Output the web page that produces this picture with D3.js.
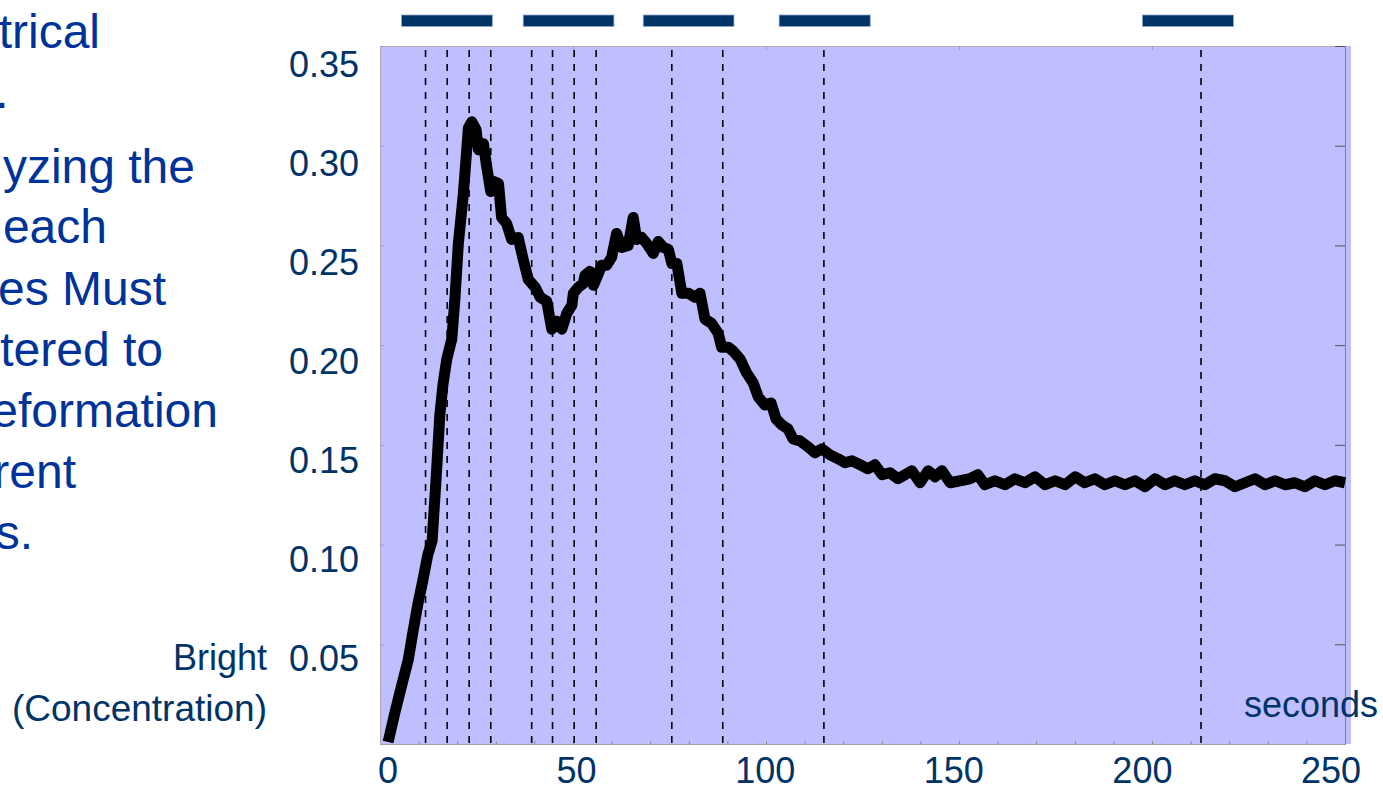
<!DOCTYPE html>
<html>
<head>
<meta charset="utf-8">
<script src="https://cdn.jsdelivr.net/npm/d3@7"></script>
<style>
  html, body { margin: 0; padding: 0; background: #fff; overflow: hidden; }
  svg { display: block; font-family: Arial, "Liberation Sans", sans-serif; }
</style>
</head>
<body>
<div id="chart"></div>
<script>
// time (s) and brightness
var seconds = [2.1, 3.9, 5.7, 7.3, 8.6, 9.8, 11.1, 12.4, 13.5, 14.5, 15.5, 16.3, 17.3, 18.6, 19.4, 20.3,
    21.6, 22.9, 23.8, 24.9, 25.5, 26.8, 27.6, 28.7, 29.5, 30.7, 31.5, 32.8, 34.1, 35.8, 37.1, 38.4,
    40.2, 41.5, 43.2, 44.5, 45.8, 47.1, 48.4, 49.7, 50.1, 51.4, 52.7, 53.1, 54.4, 55.3, 56.6, 57.4,
    58.7, 60.0, 61.3, 62.6, 64.3, 65.6, 66.5, 67.8, 69.1, 70.8, 72.1, 73.4, 74.7, 75.6, 76.9, 78.2,
    79.9, 81.6, 82.9, 84.2, 85.9, 87.6, 88.5, 90.2, 91.5, 93.3, 95.0, 96.7, 98.0, 99.7, 101.3, 102.6,
    104.1, 105.7, 107.0, 108.8, 110.9, 112.7, 114.5, 116.6, 118.7, 120.5, 122.3, 124.4, 126.4, 128.2,
    130.1, 132.1, 134.2, 136.0, 137.8, 139.9, 142.0, 143.8, 145.6, 147.7, 150.3, 152.8, 154.9, 156.7,
    159.3, 161.9, 164.5, 167.1, 169.7, 172.3, 174.9, 177.5, 180.1, 182.6, 185.2, 187.8, 190.4, 193.0,
    195.6, 198.2, 200.8, 203.4, 205.9, 208.5, 211.1, 213.7, 216.3, 218.9, 221.5, 224.1, 226.7, 229.3,
    231.9, 234.5, 237.0, 239.6, 242.2, 244.8, 247.4, 250.0];
var brightness = [0.001, 0.016, 0.030, 0.042, 0.057, 0.070, 0.082, 0.095, 0.102, 0.132, 0.165, 0.180, 0.193, 0.203, 0.223, 0.251,
    0.276, 0.309, 0.312, 0.308, 0.298, 0.301, 0.290, 0.277, 0.282, 0.281, 0.264, 0.261, 0.253, 0.254, 0.243, 0.233,
    0.229, 0.224, 0.222, 0.208, 0.212, 0.208, 0.216, 0.220, 0.226, 0.229, 0.231, 0.235, 0.237, 0.230, 0.236, 0.240,
    0.240, 0.244, 0.256, 0.249, 0.250, 0.264, 0.253, 0.254, 0.251, 0.246, 0.252, 0.249, 0.248, 0.241, 0.241, 0.226,
    0.226, 0.224, 0.226, 0.213, 0.211, 0.206, 0.199, 0.199, 0.197, 0.193, 0.186, 0.181, 0.174, 0.170, 0.171, 0.163,
    0.160, 0.158, 0.153, 0.152, 0.149, 0.146, 0.148, 0.145, 0.143, 0.141, 0.142, 0.140, 0.138, 0.140,
    0.135, 0.136, 0.133, 0.135, 0.137, 0.131, 0.137, 0.134, 0.137, 0.131, 0.132, 0.133, 0.135, 0.130,
    0.132, 0.130, 0.133, 0.131, 0.134, 0.130, 0.132, 0.130, 0.134, 0.131, 0.133, 0.130, 0.132, 0.130,
    0.132, 0.129, 0.133, 0.130, 0.132, 0.130, 0.132, 0.130, 0.133, 0.132, 0.129, 0.131, 0.133, 0.130,
    0.132, 0.130, 0.131, 0.129, 0.132, 0.130, 0.132, 0.131];

// dashed markers (s) and the stimulus bars on top (start, end in s)
var markers = [11.8, 17.4, 23.1, 28.7, 39.3, 44.7, 50.3, 56.0, 75.6, 88.8, 115.0, 212.7];
var barStarts = [5.6, 37.1, 68.2, 103.4, 197.5];
var barEnds = [29.1, 60.6, 91.7, 127.0, 221.1];

var xTicks = [0, 50, 100, 150, 200, 250];
var yTicks = [0.05, 0.10, 0.15, 0.20, 0.25, 0.30, 0.35];

// left-hand slide text, cut off by the page edge
var sideText = ['trical', '.', 'yzing the', 'each', 'es Must', 'tered to', 'eformation', 'rent', 's.'];
var sideRight = [100, 8.6, 195, 107, 166, 163, 218, 76, 33];
var sideBase = [48, 108, 183, 243, 305, 366, 427, 488, 549];

var width = 1383, height = 786;
var navy = '#003366';

var svg = d3.select('#chart').append('svg')
    .attr('width', width).attr('height', height);

var x = d3.scaleLinear().domain([0, 250]).range([380, 1345]);
var y = d3.scaleLinear().domain([0, 0.35]).range([744, 46]);
// labels sit a little off their ticks in the original
var xLab = d3.scaleLinear().domain([0, 250]).range([388, 1331]);
var yLab = d3.scaleLinear().domain([0.05, 0.35]).range([671, 77]);

svg.selectAll('text.side').data(sideText).enter()
   .append('text').attr('class', 'side')
   .attr('x', function(d, i) { return sideRight[i]; })
   .attr('y', function(d, i) { return sideBase[i]; })
   .attr('text-anchor', 'end')
   .attr('font-size', 48)
   .attr('fill', '#003399')
   .text(function(d) { return d; });

// plot background
svg.append('rect')
   .attr('x', x(0)).attr('y', y(0.35))
   .attr('width', x(250) - x(0) + 6).attr('height', y(0) - y(0.35))
   .attr('fill', '#bfbfff');

// frame + small ticks
svg.append('g').attr('transform', 'translate(0,' + y(0) + ')')
   .call(d3.axisBottom(x).ticks(25).tickSize(-3).tickFormat(''))
   .call(function(g) {
       g.selectAll('line').attr('stroke', '#8a8a8a');
       g.select('.domain').attr('stroke', '#a0a0a0');
   });
svg.append('g').attr('transform', 'translate(0,' + y(0.35) + ')')
   .call(d3.axisTop(x).ticks(5).tickSize(-4).tickSizeOuter(0).tickFormat(''))
   .call(function(g) {
       g.selectAll('line').attr('stroke', '#9a9ad0');
       g.select('.domain').attr('stroke', '#b0b0a8');
   });
svg.append('g').attr('transform', 'translate(' + x(0) + ',0)')
   .call(d3.axisRight(y).tickValues(yTicks).tickSize(4).tickSizeOuter(0).tickFormat(''))
   .call(function(g) {
       g.selectAll('line').attr('stroke', '#9a9ad0');
       g.select('.domain').attr('stroke', '#a8a8a8');
   });
svg.append('g').attr('transform', 'translate(' + x(250) + ',0)')
   .call(d3.axisLeft(y).tickValues(yTicks).tickSize(10).tickSizeOuter(0).tickFormat(''))
   .call(function(g) {
       g.selectAll('line').attr('stroke', '#555');
       g.select('.domain').attr('stroke', '#7c7ca8');
   });

// dashed event markers
svg.selectAll('line.marker').data(markers).enter()
   .append('line').attr('class', 'marker')
   .attr('x1', function(d) { return x(d); }).attr('x2', function(d) { return x(d); })
   .attr('y1', y(0.35) + 4).attr('y2', y(0))
   .attr('stroke', '#000').attr('stroke-width', 1.6)
   .attr('stroke-dasharray', '7,7');

// stimulus bars
svg.selectAll('rect.bar').data(barStarts).enter()
   .append('rect').attr('class', 'bar')
   .attr('x', function(d) { return x(d); })
   .attr('y', 15)
   .attr('width', function(d, i) { return x(barEnds[i]) - x(d); })
   .attr('height', 11.5)
   .attr('fill', navy)
   .attr('stroke', '#8fa8c8').attr('stroke-width', 0.8);

// brightness trace
var line = d3.line()
    .x(function(d) { return x(d[0]); })
    .y(function(d) { return y(d[1]); });

svg.append('path')
   .datum(d3.zip(seconds, brightness))
   .attr('d', line)
   .attr('fill', 'none')
   .attr('stroke', '#000')
   .attr('stroke-width', 11)
   .attr('stroke-linejoin', 'round');

// tick labels
svg.selectAll('text.ylab').data(yTicks).enter()
   .append('text').attr('class', 'ylab')
   .attr('x', 359).attr('y', function(d) { return yLab(d); })
   .attr('text-anchor', 'end').attr('font-size', 36).attr('fill', navy)
   .text(function(d) { return d.toFixed(2); });

svg.selectAll('text.xlab').data(xTicks).enter()
   .append('text').attr('class', 'xlab')
   .attr('x', function(d) { return xLab(d); }).attr('y', 783)
   .attr('text-anchor', 'middle').attr('font-size', 36).attr('fill', navy)
   .text(function(d) { return d; });

svg.append('text')
   .attr('x', 267).attr('y', 670)
   .attr('text-anchor', 'end').attr('font-size', 36).attr('fill', navy)
   .text('Bright');
svg.append('text')
   .attr('x', 267).attr('y', 721)
   .attr('text-anchor', 'end').attr('font-size', 37).attr('fill', navy)
   .text('(Concentration)');
svg.append('text')
   .attr('x', 1378).attr('y', 717)
   .attr('text-anchor', 'end').attr('font-size', 36).attr('fill', navy)
   .text('seconds');
</script>
</body>
</html>
